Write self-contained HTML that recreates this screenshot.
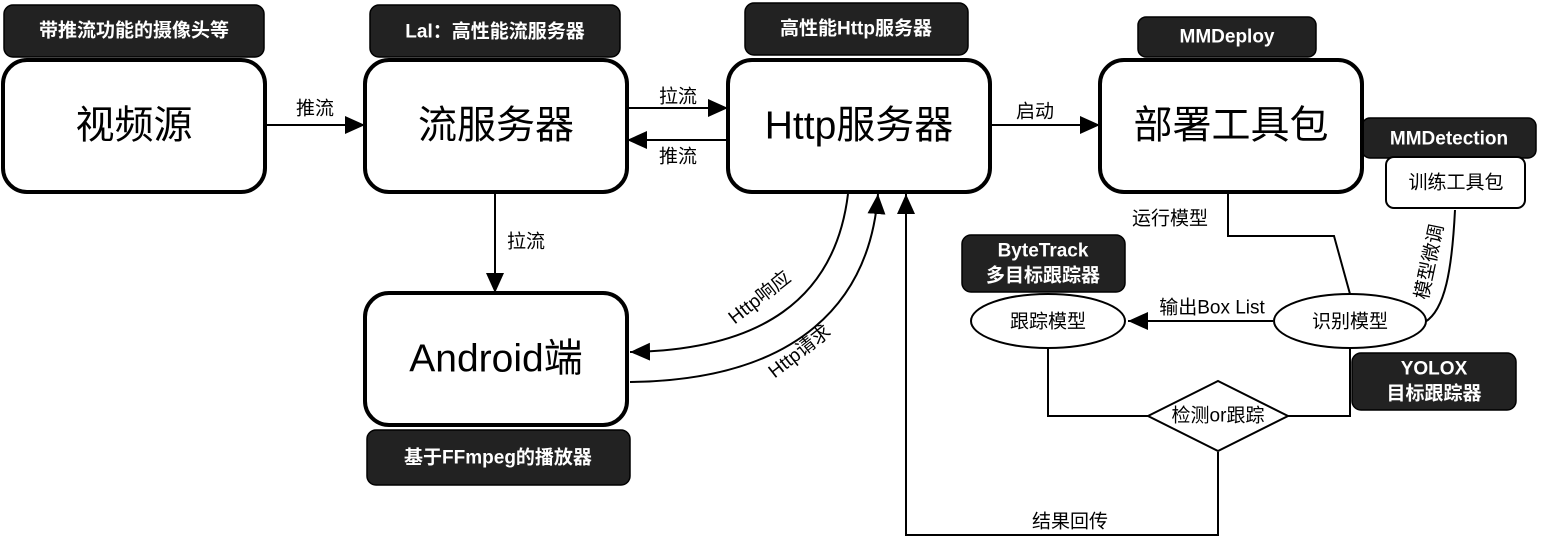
<!DOCTYPE html>
<html><head><meta charset="utf-8"><style>
html,body{margin:0;padding:0;background:#fff}
svg{display:block}
text{font-family:"Liberation Sans","Noto Sans CJK SC",sans-serif}
.big{font-size:39px;text-anchor:middle;dominant-baseline:central}
.lbl{font-size:19px;fill:#fff;font-weight:bold;text-anchor:middle;dominant-baseline:central}
.sm{font-size:19px;text-anchor:middle;dominant-baseline:central}
</style></head><body>
<svg width="1548" height="548" viewBox="0 0 1548 548" xmlns="http://www.w3.org/2000/svg">
<defs>
<marker id="b" markerWidth="20" markerHeight="18" refX="20" refY="9" orient="auto" markerUnits="userSpaceOnUse"><path d="M0,0L20,9L0,18z" fill="#000"/></marker></defs>
<g fill="#222" stroke="#000" stroke-width="1.5">
<rect x="4" y="5" width="260" height="52" rx="9"/>
<rect x="370" y="5" width="250" height="52" rx="9"/>
<rect x="745" y="3" width="223" height="52" rx="9"/>
<rect x="1138" y="17" width="178" height="40" rx="8"/>
<rect x="1362" y="118" width="174" height="40" rx="8"/>
<rect x="962" y="235" width="163" height="57" rx="9"/>
<rect x="1352" y="353" width="164" height="57" rx="9"/>
<rect x="367" y="430" width="263" height="55" rx="9"/>
</g>
<text x="134" y="31" class="lbl">带推流功能的摄像头等</text>
<text x="495" y="32" class="lbl">Lal：高性能流服务器</text>
<text x="856" y="29" class="lbl">高性能Http服务器</text>
<text x="1227" y="37" class="lbl">MMDeploy</text>
<text x="1449" y="139" class="lbl">MMDetection</text>
<text x="1043" y="251" class="lbl">ByteTrack</text>
<text x="1043" y="276" class="lbl">多目标跟踪器</text>
<text x="1434" y="369" class="lbl">YOLOX</text>
<text x="1434" y="394" class="lbl">目标跟踪器</text>
<text x="498" y="458" class="lbl">基于FFmpeg的播放器</text>
<g fill="#fff" stroke="#000" stroke-width="4">
<rect x="3" y="60" width="262" height="132" rx="24"/>
<rect x="365" y="60" width="262" height="132" rx="24"/>
<rect x="728" y="60" width="262" height="132" rx="24"/>
<rect x="1100" y="60" width="262" height="132" rx="24"/>
<rect x="365" y="293" width="262" height="132" rx="24"/>
</g>
<rect x="1386" y="157" width="139" height="51" rx="8" fill="#fff" stroke="#000" stroke-width="2"/>
<text x="134" y="126" class="big">视频源</text>
<text x="496" y="126" class="big">流服务器</text>
<text x="859" y="126" class="big">Http服务器</text>
<text x="1231" y="126" class="big">部署工具包</text>
<text x="496" y="359" class="big">Android端</text>
<text x="1456" y="183" class="sm">训练工具包</text>
<g stroke="#000" stroke-width="2" fill="none">
<line x1="265" y1="125" x2="365" y2="125" marker-end="url(#b)"/>
<line x1="627" y1="108" x2="728" y2="108" marker-end="url(#b)"/>
<line x1="728" y1="140" x2="627" y2="140" marker-end="url(#b)"/>
<line x1="495" y1="192" x2="495" y2="293" marker-end="url(#b)"/>
<line x1="990" y1="125" x2="1100" y2="125" marker-end="url(#b)"/>
<path d="M848,194 C835,300 760,350 630,352" marker-end="url(#b)"/>
<path d="M630,382 C800,380 870,300 878,194" marker-end="url(#b)"/>
<path d="M1218,452 L1218,535 L906,535 L906,194" marker-end="url(#b)"/>
<path d="M1228,194 L1228,236 L1334,236 L1350,294"/>
<path d="M1455,210 C1452,270 1445,310 1425,322"/>
<line x1="1273" y1="321" x2="1128" y2="321" marker-end="url(#b)"/>
<path d="M1048,348 L1048,416 L1148,416"/>
<path d="M1288,416 L1350,416 L1350,348"/>
</g>
<g fill="#fff" stroke="#000" stroke-width="2">
<ellipse cx="1048" cy="321" rx="77" ry="27"/>
<ellipse cx="1350" cy="321" rx="76" ry="27"/>
<path d="M1148,416 L1218,381 L1288,416 L1218,451 z"/>
</g>
<text x="1048" y="322" class="sm">跟踪模型</text>
<text x="1350" y="322" class="sm">识别模型</text>
<text x="1218" y="416" class="sm">检测or跟踪</text>
<text x="315" y="109" class="sm">推流</text>
<text x="678" y="97" class="sm">拉流</text>
<text x="678" y="157" class="sm">推流</text>
<text x="526" y="242" class="sm">拉流</text>
<text x="1035" y="112" class="sm">启动</text>
<text x="1170" y="219" class="sm">运行模型</text>
<text x="1212" y="308" class="sm">输出Box List</text>
<text x="1070" y="522" class="sm">结果回传</text>
<text x="0" y="0" class="sm" transform="translate(760,298) rotate(-38)">Http响应</text>
<text x="0" y="0" class="sm" transform="translate(800,352) rotate(-38)">Http请求</text>
<text x="0" y="0" class="sm" transform="translate(1430,262) rotate(-78)">模型微调</text>
</svg>
</body></html>
